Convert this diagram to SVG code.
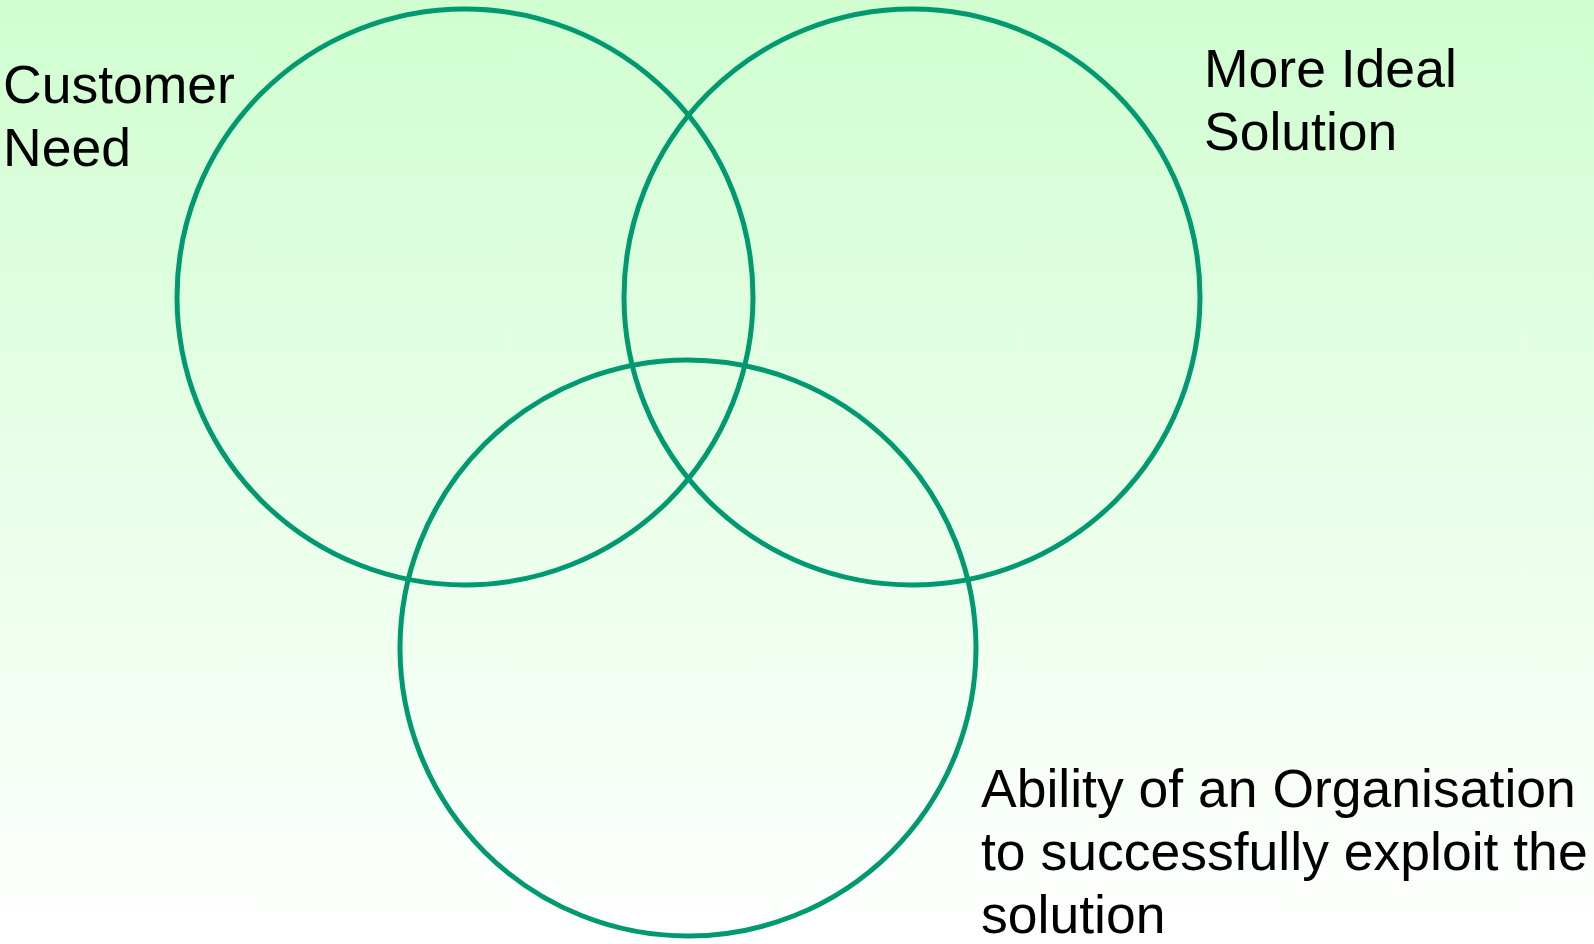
<svg xmlns="http://www.w3.org/2000/svg" width="1594" height="944" viewBox="0 0 1594 944">
<defs>
<linearGradient id="bg" x1="0" y1="0" x2="0" y2="1">
<stop offset="0" stop-color="#d0fed0"/>
<stop offset="1" stop-color="#ffffff"/>
</linearGradient>
</defs>
<style>
.c{fill:none;stroke:#009970;stroke-width:5}
.t{font-family:"Liberation Sans",Arial,sans-serif;font-size:53.5px;fill:#000}
</style>
<rect width="1594" height="944" fill="url(#bg)"/>
<g id="customer-need">
<circle class="c" cx="465" cy="297" r="288"/>
<text class="t" x="3" y="103">Customer</text>
<text class="t" x="3" y="166">Need</text>
</g>
<g id="more-ideal-solution">
<circle class="c" cx="912" cy="297" r="288"/>
<text class="t" x="1204" y="87">More Ideal</text>
<text class="t" x="1204" y="150">Solution</text>
</g>
<g id="ability">
<circle class="c" cx="688" cy="648" r="288"/>
<text class="t" x="981" y="807">Ability of an Organisation</text>
<text class="t" x="981" y="870">to successfully exploit the</text>
<text class="t" x="981" y="933">solution</text>
</g>
<g id="connectors"/>
</svg>
